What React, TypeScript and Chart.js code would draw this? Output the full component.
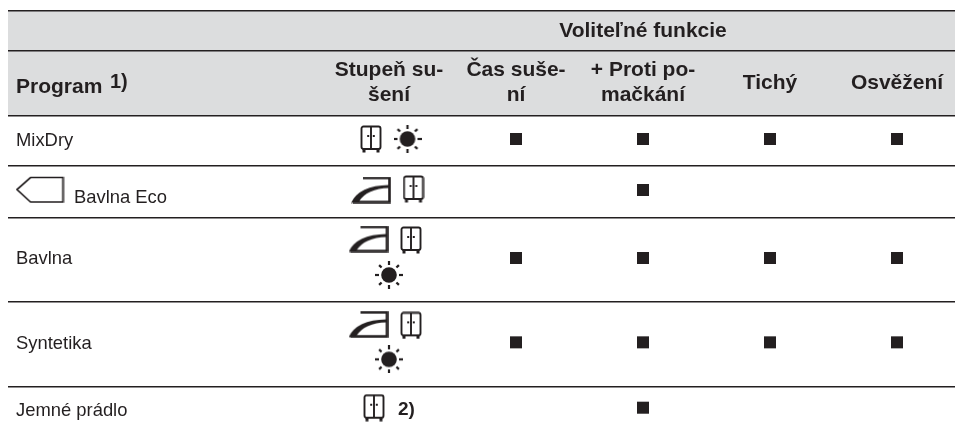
import React, { useEffect, useRef } from "react";
import { Chart, registerables } from "chart.js";

Chart.register(...registerables);

// ---- data ----
const programs = ["MixDry", "Bavlna Eco", "Bavlna", "Syntetika", "Jemné prádlo"];
const optionColumns = ["Čas suše-|ní", "+ Proti po-|mačkání", "Tichý", "Osvěžení"];
const dryingColumn = "Stupeň su-|šení";
const groupTitle = "Voliteľné funkcie";
const programTitle = "Program";
const programNote = "1)";
const dryingNote = "2)";
// rows x options
const available = [
  [1, 1, 1, 1],
  [0, 1, 0, 0],
  [1, 1, 1, 1],
  [1, 1, 1, 1],
  [0, 1, 0, 0],
];
const dryingIcons = [
  ["wardrobe", "sun"],
  ["iron", "wardrobe"],
  ["iron", "wardrobe", "sun"],
  ["iron", "wardrobe", "sun"],
  ["wardrobe"],
];

// ---- layout ----
const W = 955;
const H = 432;
const TOP = 10.7;
const ROW_HEIGHTS = [40.3, 65, 50, 52, 84, 84.7];
const BOUNDS = ROW_HEIGHTS.reduce((a, h) => [...a, a[a.length - 1] + h], [TOP]);
const COL_PX = 127;
const rowY = (r: number) => BOUNDS[r + 2] + (BOUNDS[r + 3] !== undefined ? (BOUNDS[r + 3] - BOUNDS[r + 2]) / 2 : 23) - 2;
const ICON_OFFSETS: Record<number, [number, number][]> = {
  0: [[-18, 0], [18.5, 0]],
  1: [[-18, 0], [24.5, -1]],
  2: [[-20.5, -19], [22, -18], [0, 17]],
  3: [[-20.5, -18], [22, -17], [0, 17]],
  4: [[-15, 0]],
};

const ink = "#231f20";
function makeIcon(w: number, h: number, draw: (c: CanvasRenderingContext2D) => void) {
  const cv = document.createElement("canvas");
  cv.width = w;
  cv.height = h;
  const c = cv.getContext("2d")!;
  c.strokeStyle = ink;
  c.fillStyle = ink;
  draw(c);
  return cv;
}

function buildIcons() {
  const wardrobe = makeIcon(22, 28, (c) => {
    c.lineWidth = 1.9;
    c.beginPath();
    c.roundRect(1.5, 1.5, 19, 22.5, 2);
    c.moveTo(11, 1.5);
    c.lineTo(11, 24);
    c.stroke();
    c.fillRect(7.2, 10, 2, 2);
    c.fillRect(12.8, 10, 2, 2);
    c.fillRect(2.5, 24, 3, 3.5);
    c.fillRect(16.5, 24, 3, 3.5);
  });
  const sun = makeIcon(28, 28, (c) => {
    c.beginPath();
    c.arc(14, 14, 7.8, 0, Math.PI * 2);
    c.fill();
    c.lineWidth = 2.2;
    for (let i = 0; i < 8; i++) {
      const a = (i * Math.PI) / 4;
      const r0 = i % 2 ? 10.5 : 10;
      const r1 = i % 2 ? 14 : 14.5;
      c.beginPath();
      c.moveTo(14 + r0 * Math.cos(a), 14 + r0 * Math.sin(a));
      c.lineTo(14 + r1 * Math.cos(a), 14 + r1 * Math.sin(a));
      c.stroke();
    }
  });
  const iron = makeIcon(40, 27, (c) => {
    c.lineWidth = 2.6;
    c.beginPath();
    c.moveTo(12, 1.5);
    c.lineTo(38.5, 1.5);
    c.lineTo(38.5, 25.5);
    c.lineTo(2, 25.5);
    c.stroke();
    c.beginPath();
    c.moveTo(0, 26.5);
    c.quadraticCurveTo(8, 9, 38, 8.5);
    c.lineTo(38, 11.5);
    c.quadraticCurveTo(16, 12, 8, 25);
    c.closePath();
    c.fill();
  });
  const tag = makeIcon(49, 28, (c) => {
    c.lineWidth = 1.7;
    c.beginPath();
    c.moveTo(47.5, 1.5);
    c.lineTo(15, 1.5);
    c.lineTo(1.5, 13.5);
    c.lineTo(15, 26);
    c.lineTo(47.5, 26);
    c.closePath();
    c.stroke();
  });
  return { wardrobe, sun, iron, tag } as Record<string, HTMLCanvasElement>;
}

// x value in column units from a pixel offset to column 1
const colFromOffset = (col: number, dx: number) => col + dx / COL_PX;

const tablePlugin = {
  id: "tableText",
  beforeDraw(chart: any) {
    const { ctx, chartArea, scales } = chart;
    const y = scales.y;
    ctx.save();
    ctx.fillStyle = "#dcddde";
    ctx.fillRect(chartArea.left, y.getPixelForValue(BOUNDS[0]), chartArea.right - chartArea.left, y.getPixelForValue(BOUNDS[2]) - y.getPixelForValue(BOUNDS[0]));
    ctx.restore();
  },
  afterDatasetsDraw(chart: any) {
    const { ctx, scales } = chart;
    const x = scales.x;
    const text = (s: string, px: number, py: number, font: string, align: CanvasTextAlign = "left") => {
      ctx.font = font;
      ctx.textAlign = align;
      ctx.fillText(s, px, py);
    };
    ctx.save();
    ctx.fillStyle = ink;
    ctx.textBaseline = "alphabetic";
    const bold = "bold 21px 'Liberation Sans'";
    const body = "18.4px 'Liberation Sans'";
    text(groupTitle, x.getPixelForValue(3), 37, bold, "center");
    text(programTitle, 16, 93, bold);
    text(programNote, 110, 88, "bold 20px 'Liberation Sans'");
    [dryingColumn, ...optionColumns].forEach((label, i) => {
      const parts = label.split("|");
      const cx = x.getPixelForValue(i + 1);
      if (parts.length === 2) {
        text(parts[0], cx, 76, bold, "center");
        text(parts[1], cx, 101, bold, "center");
      } else {
        text(parts[0], cx, 89, bold, "center");
      }
    });
    const baselines = [146, 203, 264, 349, 416];
    programs.forEach((p, r) => text(p, r === 1 ? 74 : 16, baselines[r], body));
    text(dryingNote, 398, 415, "bold 19px 'Liberation Sans'");
    ctx.restore();
  },
};

export default function App() {
  const ref = useRef<HTMLCanvasElement>(null);
  useEffect(() => {
    const icons = buildIcons();
    const marks: { x: number; y: number }[] = [];
    available.forEach((row, r) =>
      row.forEach((v, c) => {
        if (v) marks.push({ x: c + 2, y: rowY(r) });
      })
    );
    const iconData: { x: number; y: number; icon: string }[] = [];
    dryingIcons.forEach((list, r) =>
      list.forEach((icon, i) => {
        const [dx, dy] = ICON_OFFSETS[r][i];
        iconData.push({ x: colFromOffset(1, dx), y: rowY(r) + dy, icon });
      })
    );
    iconData.push({ x: colFromOffset(1, -349), y: rowY(1), icon: "tag" });

    const chart = new Chart(ref.current!, {
      type: "scatter",
      data: {
        datasets: [
          {
            label: "Voliteľné funkcie",
            data: marks,
            pointStyle: "rect",
            pointRadius: 8.5,
            pointBackgroundColor: ink,
            pointBorderWidth: 0,
          },
          {
            label: "Stupeň sušení",
            data: iconData as any,
            pointRadius: 12,
            pointBorderWidth: 0,
            pointStyle: iconData.map((d) => icons[d.icon]) as any,
          },
        ],
      },
      options: {
        responsive: false,
        animation: false,
        events: [],
        layout: { autoPadding: false, padding: { left: 8, right: 0, top: 0, bottom: 0 } },
        plugins: { legend: { display: false }, tooltip: { enabled: false } },
        scales: {
          x: {
            type: "linear",
            display: false,
            min: -2,
            max: 1 + (W - 389) / COL_PX,
          },
          y: {
            type: "linear",
            reverse: true,
            min: 0,
            max: H,
            display: true,
            position: "left",
            afterFit(s: any) {
              s.width = 0;
            },
            afterBuildTicks(s: any) {
              s.ticks = BOUNDS.map((v) => ({ value: v }));
            },
            border: { display: false },
            ticks: { display: false },
            grid: { color: ink, lineWidth: 1.6, drawTicks: false },
          },
        },
      },
      plugins: [tablePlugin],
    } as any);
    return () => chart.destroy();
  }, []);
  return (
    <div style={{ position: "absolute", left: 0, top: 0, width: W, height: H, background: "#fff" }}>
      <canvas ref={ref} width={W} height={H} style={{ display: "block" }} />
    </div>
  );
}
